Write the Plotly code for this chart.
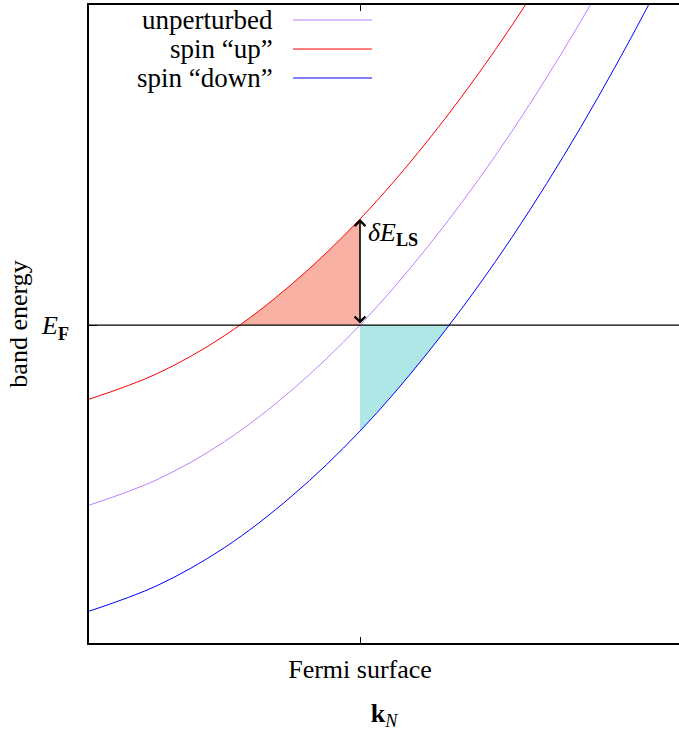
import plotly.graph_objects as go

# band energies (units: E_F = 0, spin splitting = 1)
k = [0.0, 0.25, 0.5, 0.75, 1.0, 1.25, 1.5, 1.75, 2.0, 2.25]
E_unpert = [-1.70, -1.46, -1.10, -0.61, 0.00, 0.74, 1.60, 2.59, 3.71, 4.95]
E_up = [-0.70, -0.46, -0.10, 0.39, 1.00, 1.74, 2.60, 3.59, 4.71, 5.95]
E_down = [-2.70, -2.46, -2.10, -1.61, -1.00, -0.26, 0.60, 1.59, 2.71, 3.95]

# shaded areas between E_F and the spin bands
k_up_fill = [0.557, 0.6, 0.7, 0.8, 0.9, 1.0, 1.0]
E_up_fill = [0.0, 0.08, 0.28, 0.50, 0.74, 1.0, 0.0]
k_down_fill = [1.0, 1.0, 1.1, 1.2, 1.3, 1.329]
E_down_fill = [0.0, -1.0, -0.72, -0.42, -0.10, 0.0]

k_fermi = 1.0
E_fermi = 0.0
dE_LS = 1.0

names = ["unperturbed", "spin “up”", "spin “down”"]
colors = ["#c080ff", "#ff0000", "#0000ff"]

FONT = "Liberation Serif"
FS = 26

fig = go.Figure()
fig.add_trace(go.Scatter(x=k_up_fill, y=E_up_fill, fill="toself", mode="none",
                         fillcolor="#f9b1a4", showlegend=False, hoverinfo="skip"))
fig.add_trace(go.Scatter(x=k_down_fill, y=E_down_fill, fill="toself", mode="none",
                         fillcolor="#afe6e6", showlegend=False, hoverinfo="skip"))
for ys, c, n in zip([E_unpert, E_up, E_down], colors, names):
    fig.add_trace(go.Scatter(x=k, y=ys, mode="lines", name=n,
                             line=dict(color=c, width=1, shape="spline", smoothing=1.0),
                             showlegend=False))

# Fermi level line
fig.add_shape(type="line", xref="paper", x0=0, x1=1, yref="y", y0=E_fermi, y1=E_fermi,
              line=dict(color="black", width=1.3))

# double arrow for delta E_LS
fig.add_annotation(x=k_fermi, y=E_fermi + dE_LS, ax=k_fermi, ay=E_fermi,
                   xref="x", yref="y", axref="x", ayref="y", text="",
                   showarrow=True, arrowside="end+start", arrowhead=4, arrowsize=1.3,
                   arrowwidth=1.6, arrowcolor="black")
fig.add_annotation(x=k_fermi + 0.022, y=E_fermi + 0.86, xref="x", yref="y",
                   text="<i>δE</i><sub><b>LS</b></sub>", showarrow=False, xanchor="left",
                   yanchor="middle", font=dict(family=FONT, size=FS, color="black"))

# legend (text right, sample line to the right, gnuplot style)
leg_y = [0.9765, 0.931, 0.8856]
for n, c, yy in zip(names, colors, leg_y):
    fig.add_annotation(x=0.3153, y=yy, xref="paper", yref="paper", text=n,
                       showarrow=False, xanchor="right", yanchor="middle",
                       font=dict(family=FONT, size=27, color="black"))
    fig.add_shape(type="line", xref="paper", yref="paper", x0=0.3458, x1=0.4797,
                  y0=yy, y1=yy, line=dict(color=c, width=1))

fig.update_layout(
    width=679, height=731,
    margin=dict(l=89, r=0, t=5, b=88, autoexpand=False),
    plot_bgcolor="white", paper_bgcolor="white",
    showlegend=False,
    font=dict(family=FONT, size=FS, color="black"),
)
fig.update_xaxes(range=[0, 2.177], tickvals=[k_fermi], ticktext=["Fermi surface"],
                 ticks="inside", ticklen=6, tickwidth=1, tickcolor="black",
                 showline=True, linecolor="black", linewidth=1.5, mirror="ticks",
                 showgrid=False, zeroline=False, ticklabelstandoff=2, automargin=False,
                 title=dict(text="<b>k</b><sub><i>N</i></sub>", standoff=22,
                            font=dict(family=FONT, size=FS)))
fig.update_yaxes(range=[-3.0, 3.02], tickvals=[E_fermi], ticktext=["<i>E</i><sub><b>F</b></sub>"],
                 ticks="inside", ticklen=8, tickwidth=1, tickcolor="black",
                 showline=True, linecolor="black", linewidth=1.5, mirror=False,
                 showgrid=False, zeroline=False, ticklabelstandoff=13, automargin=False,
                 title=dict(text="band energy", standoff=6,
                            font=dict(family=FONT, size=FS)))

fig.write_html("out.html", config={"displayModeBar": False},
               post_script="document.body.style.margin='0';"
                           "document.body.style.overflow='hidden';")
